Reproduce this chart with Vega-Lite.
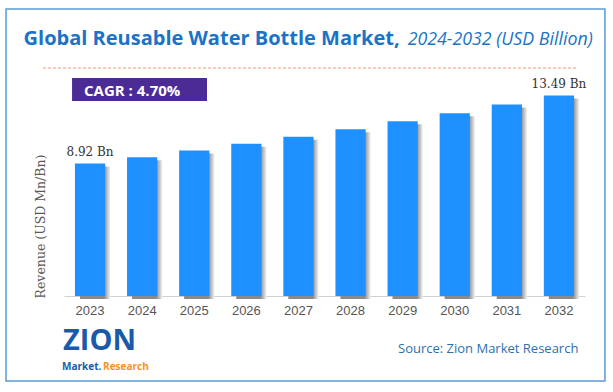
{
  "$schema": "https://vega.github.io/schema/vega-lite/v6.json",
  "width": 521,
  "height": 223,
  "autosize": {"type": "none"},
  "padding": {"left": 64, "top": 73, "right": 28, "bottom": 96},
  "background": "white",
  "config": {"view": {"stroke": null}},
  "data": {
    "values": [
      {"year": "2023", "value": 8.92, "label": "8.92 Bn"},
      {"year": "2024", "value": 9.34, "label": ""},
      {"year": "2025", "value": 9.78, "label": ""},
      {"year": "2026", "value": 10.24, "label": ""},
      {"year": "2027", "value": 10.72, "label": ""},
      {"year": "2028", "value": 11.22, "label": ""},
      {"year": "2029", "value": 11.75, "label": ""},
      {"year": "2030", "value": 12.3, "label": ""},
      {"year": "2031", "value": 12.88, "label": ""},
      {"year": "2032", "value": 13.49, "label": "13.49 Bn"}
    ]
  },
  "layer": [
    {
      "mark": {"type": "bar", "color": "#1e90ff", "opacity": 0},
      "encoding": {
        "x": {
          "field": "year", "type": "ordinal",
          "scale": {"paddingInner": 0.42, "paddingOuter": 0.21},
          "axis": {"title": null, "domainColor": "#d0d0d0", "ticks": false, "grid": false, "labelAngle": 0, "labelFont": "Liberation Sans", "labelFontSize": 13, "labelColor": "#555555", "labelPadding": 8}
        },
        "y": {
          "field": "value", "type": "quantitative",
          "scale": {"domain": [0, 15], "nice": false},
          "axis": {"title": "Revenue (USD Mn/Bn)", "domain": false, "ticks": false, "labels": false, "grid": false, "titleFont": "DejaVu Serif", "titleFontSize": 12.5, "titleFontWeight": "normal", "titleColor": "#5a5a5a", "titleAngle": -90, "titleX": -24, "titleY": 153, "titleAlign": "center", "titleBaseline": "middle"}
        }
      }
    },
    {
      "data": {"values": [{}]},
      "mark": {"type": "rect", "fillOpacity": 0, "stroke": "#5b9bd5", "strokeWidth": 1.5, "xOffset": -84, "x2Offset": 46},
      "encoding": {
        "x": {"datum": "2023", "type": "ordinal", "bandPosition": 0.5},
        "x2": {"datum": "2032", "bandPosition": 0.5},
        "y": {"datum": 19.305, "type": "quantitative", "scale": {"domain": [0, 15], "nice": false}},
        "y2": {"datum": -5.717}
      }
    },
    {
      "data": {"values": [{}]},
      "mark": {"type": "text", "text": "Global Reusable Water Bottle Market,", "font": "Open Sans", "fontWeight": "bold", "fontSize": 20, "color": "#1a73c6", "align": "right", "baseline": "alphabetic", "dx": -3},
      "encoding": {
        "x": {"datum": "2029", "type": "ordinal"},
        "y": {"datum": 16.883, "type": "quantitative", "scale": {"domain": [0, 15], "nice": false}}
      }
    },
    {
      "data": {"values": [{}]},
      "mark": {"type": "text", "text": "2024-2032 (USD Billion)", "font": "Open Sans", "fontStyle": "italic", "fontSize": 17.8, "color": "#1a73c6", "align": "left", "baseline": "alphabetic", "dx": 5},
      "encoding": {
        "x": {"datum": "2029", "type": "ordinal"},
        "y": {"datum": 16.883, "type": "quantitative", "scale": {"domain": [0, 15], "nice": false}}
      }
    },
    {
      "data": {"values": [{}]},
      "mark": {"type": "rule", "color": "#f19a6a", "strokeWidth": 1, "strokeDash": [3, 2], "xOffset": -47, "x2Offset": 18},
      "encoding": {
        "x": {"datum": "2023", "type": "ordinal"},
        "x2": {"datum": "2032"},
        "y": {"datum": 15.336, "type": "quantitative", "scale": {"domain": [0, 15], "nice": false}}
      }
    },
    {
      "data": {"values": [{}]},
      "mark": {"type": "rect", "color": "#4a2c94", "xOffset": -18, "x2Offset": 12.75},
      "encoding": {
        "x": {"datum": "2023", "type": "ordinal", "bandPosition": 0.5},
        "x2": {"datum": "2025", "bandPosition": 0.5},
        "y": {"datum": 14.663, "type": "quantitative", "scale": {"domain": [0, 15], "nice": false}},
        "y2": {"datum": 13.116}
      }
    },
    {
      "data": {"values": [{}]},
      "mark": {"type": "text", "text": "CAGR : 4.70%", "font": "Open Sans", "fontWeight": "bold", "fontSize": 15, "color": "white", "align": "left", "baseline": "alphabetic", "dx": -6},
      "encoding": {
        "x": {"datum": "2023", "type": "ordinal"},
        "y": {"datum": 13.452, "type": "quantitative", "scale": {"domain": [0, 15], "nice": false}}
      }
    },
    {
      "mark": {
        "type": "bar",
        "xOffset": 5,
        "yOffset": 3,
        "fill": {"gradient": "linear", "x1": 0, "x2": 1, "y1": 0, "y2": 0, "stops": [{"offset": 0, "color": "#8a8a8a"}, {"offset": 0.8, "color": "#8a8a8a"}, {"offset": 1, "color": "#f2f2f2"}]}
      },
      "encoding": {
        "x": {"field": "year", "type": "ordinal"},
        "y": {"field": "value", "type": "quantitative", "scale": {"domain": [0, 15], "nice": false}}
      }
    },
    {
      "mark": {"type": "bar", "color": "#1e90ff"},
      "encoding": {
        "x": {"field": "year", "type": "ordinal"},
        "y": {"field": "value", "type": "quantitative", "scale": {"domain": [0, 15], "nice": false}}
      }
    },
    {
      "transform": [{"filter": "datum.label != ''"}],
      "mark": {"type": "text", "font": "DejaVu Serif", "fontSize": 12, "color": "#333333", "dy": -7, "baseline": "alphabetic"},
      "encoding": {
        "x": {"field": "year", "type": "ordinal"},
        "y": {"field": "value", "type": "quantitative", "scale": {"domain": [0, 15], "nice": false}},
        "text": {"field": "label"}
      }
    },
    {
      "data": {"values": [{}]},
      "mark": {"type": "text", "text": "ZION", "font": "Open Sans", "fontWeight": "bold", "fontSize": 29, "color": "#1b5aa8", "align": "left", "baseline": "alphabetic", "dx": -27},
      "encoding": {
        "x": {"datum": "2023", "type": "ordinal"},
        "y": {"datum": -3.6, "type": "quantitative", "scale": {"domain": [0, 15], "nice": false}}
      }
    },
    {
      "data": {"values": [{}]},
      "mark": {"type": "text", "text": "Market.", "font": "Open Sans", "fontWeight": "bold", "fontSize": 10, "color": "#1b5aa8", "align": "left", "baseline": "alphabetic", "dx": -28},
      "encoding": {
        "x": {"datum": "2023", "type": "ordinal"},
        "y": {"datum": -4.98, "type": "quantitative", "scale": {"domain": [0, 15], "nice": false}}
      }
    },
    {
      "data": {"values": [{}]},
      "mark": {"type": "text", "text": "Research", "font": "Open Sans", "fontWeight": "bold", "fontSize": 10, "color": "#f7941d", "align": "left", "baseline": "alphabetic", "dx": 13},
      "encoding": {
        "x": {"datum": "2023", "type": "ordinal"},
        "y": {"datum": -4.98, "type": "quantitative", "scale": {"domain": [0, 15], "nice": false}}
      }
    },
    {
      "data": {"values": [{}]},
      "mark": {"type": "text", "text": "Source: Zion Market Research", "font": "Open Sans", "fontSize": 13, "color": "#2e6fad", "align": "left", "baseline": "alphabetic", "dx": -4.65},
      "encoding": {
        "x": {"datum": "2029", "type": "ordinal"},
        "y": {"datum": -3.81, "type": "quantitative", "scale": {"domain": [0, 15], "nice": false}}
      }
    }
  ]
}
